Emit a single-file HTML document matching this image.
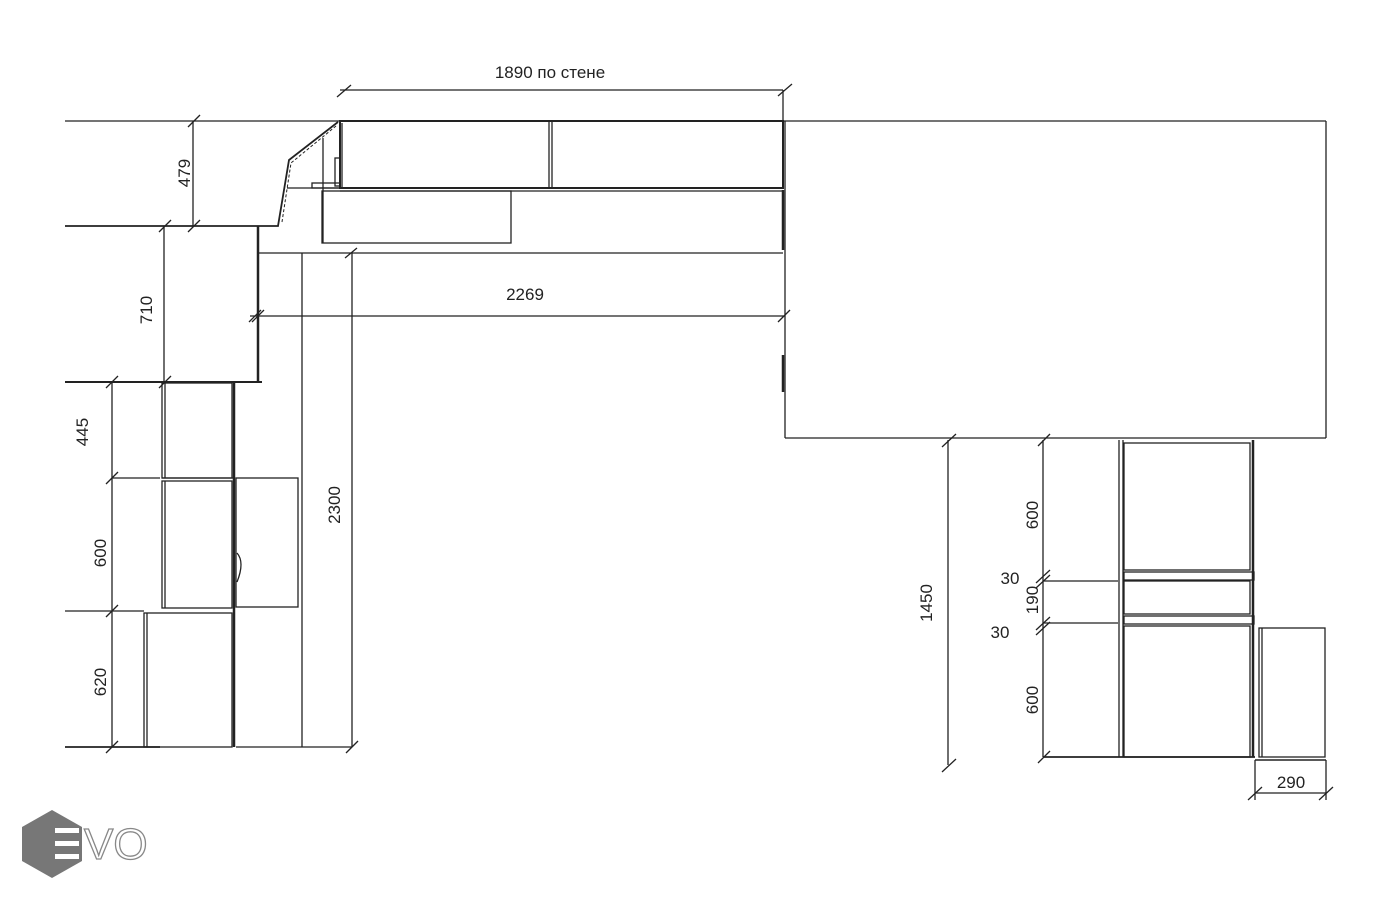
<!DOCTYPE html>
<html><head><meta charset="utf-8"><style>
html,body{margin:0;padding:0;background:#fff;width:1392px;height:900px;overflow:hidden}
svg{display:block}
text{font-family:"Liberation Sans",sans-serif;font-size:17px;fill:#222}
</style></head><body>
<svg width="1392" height="900" viewBox="0 0 1392 900" xmlns="http://www.w3.org/2000/svg">
<g stroke="#222" stroke-width="1.3" fill="none">
<line x1="65" y1="121" x2="1326" y2="121"/>
<line x1="1326" y1="121" x2="1326" y2="438"/>
<line x1="785" y1="438" x2="1326" y2="438"/>
<line x1="785" y1="121" x2="785" y2="438"/>
<line x1="783" y1="190" x2="783" y2="250" stroke-width="2.5"/>
<line x1="783" y1="355" x2="783" y2="392" stroke-width="2.5"/>
<line x1="258" y1="226" x2="258" y2="382" stroke-width="2.5"/>
<line x1="65" y1="382" x2="262" y2="382" stroke-width="2"/>
<polyline points="65,226 278,226 289,160 338,122" stroke-width="1.8"/>
<polyline points="282,222 291,163 336,126" stroke-width="1" stroke-dasharray="3,2"/>
<line x1="323" y1="138" x2="323" y2="243"/>
<line x1="287" y1="188" x2="340" y2="188"/>
<rect x="335" y="158" width="5" height="28"/>
<rect x="312" y="183" width="28" height="5"/>
<rect x="340" y="121" width="443" height="67" stroke-width="2"/>
<line x1="342" y1="123" x2="342" y2="188"/>
<line x1="549" y1="121" x2="549" y2="188"/>
<line x1="552" y1="121" x2="552" y2="188"/>
<line x1="340" y1="191" x2="783" y2="191"/>
<rect x="322" y="191" width="189" height="52"/>
<line x1="258" y1="253" x2="783" y2="253"/>
<line x1="250" y1="316" x2="785" y2="316"/>
<line x1="252" y1="322" x2="264" y2="310"/><line x1="778" y1="322" x2="790" y2="310"/>
<line x1="345" y1="258" x2="357" y2="248"/>
<line x1="302" y1="253" x2="302" y2="747"/>
<line x1="352" y1="253" x2="352" y2="747"/>
<line x1="302" y1="747" x2="352" y2="747"/>
<line x1="346" y1="753" x2="358" y2="741"/>
<line x1="340" y1="90" x2="783" y2="90"/>
<line x1="337" y1="97" x2="351" y2="85"/><line x1="778" y1="96" x2="792" y2="84"/>
<line x1="783" y1="90" x2="783" y2="121"/>
<line x1="193" y1="121" x2="193" y2="226"/>
<line x1="188" y1="127" x2="200" y2="115"/><line x1="188" y1="232" x2="200" y2="220"/>
<line x1="164" y1="226" x2="164" y2="382"/>
<line x1="159" y1="232" x2="171" y2="220"/><line x1="159" y1="388" x2="171" y2="376"/>
<line x1="249" y1="322" x2="261" y2="310"/>
<rect x="162" y="383" width="70" height="95"/>
<line x1="165" y1="383" x2="165" y2="478"/>
<rect x="162" y="481" width="70" height="127"/>
<line x1="165" y1="481" x2="165" y2="608"/>
<line x1="162" y1="478" x2="234" y2="478"/>
<rect x="144" y="613" width="88" height="134"/>
<line x1="147" y1="613" x2="147" y2="747"/>
<line x1="234" y1="382" x2="234" y2="747" stroke-width="2.5"/>
<rect x="236" y="478" width="62" height="129"/>
<path d="M237,553 Q245,562 237,582"/>
<line x1="236" y1="747" x2="302" y2="747"/>
<line x1="65" y1="747" x2="160" y2="747" stroke-width="1.8"/>
<line x1="112" y1="382" x2="112" y2="747"/>
<line x1="112" y1="478" x2="160" y2="478"/>
<line x1="65" y1="611" x2="144" y2="611"/>
<line x1="106" y1="388" x2="118" y2="376"/><line x1="106" y1="484" x2="118" y2="472"/>
<line x1="106" y1="617" x2="118" y2="605"/><line x1="106" y1="753" x2="118" y2="741"/>
<line x1="948" y1="440" x2="948" y2="765"/>
<line x1="942" y1="447" x2="956" y2="434"/><line x1="942" y1="772" x2="956" y2="759"/>
<line x1="1043" y1="440" x2="1043" y2="757"/>
<line x1="1038" y1="446" x2="1050" y2="434"/><line x1="1038" y1="763" x2="1050" y2="751"/>
<line x1="1036" y1="583" x2="1050" y2="570"/><line x1="1036" y1="588" x2="1050" y2="575"/>
<line x1="1036" y1="630" x2="1050" y2="617"/><line x1="1036" y1="635" x2="1050" y2="622"/>
<line x1="1043" y1="581" x2="1118" y2="581"/>
<line x1="1043" y1="623" x2="1118" y2="623"/>
<line x1="1043" y1="757" x2="1255" y2="757" stroke-width="1.8"/>
<line x1="1119" y1="440" x2="1119" y2="757"/>
<line x1="1123" y1="440" x2="1123" y2="757"/>
<rect x="1124" y="443" width="126" height="127"/>
<rect x="1124" y="572" width="130" height="8"/>
<rect x="1124" y="581" width="126" height="33"/>
<rect x="1124" y="616" width="130" height="8"/>
<rect x="1124" y="626" width="126" height="131"/>
<line x1="1253" y1="440" x2="1253" y2="757" stroke-width="2.5"/>
<rect x="1259" y="628" width="66" height="129"/>
<line x1="1262" y1="628" x2="1262" y2="757"/>
<line x1="1255" y1="760" x2="1326" y2="760" stroke-width="1.5"/>
<line x1="1255" y1="760" x2="1255" y2="800"/>
<line x1="1326" y1="760" x2="1326" y2="800"/>
<line x1="1255" y1="793" x2="1326" y2="793"/>
<line x1="1248" y1="800" x2="1262" y2="787"/><line x1="1319" y1="800" x2="1333" y2="787"/>
</g>
<text x="550" y="78" text-anchor="middle">1890 по стене</text>
<text x="525" y="300" text-anchor="middle">2269</text>
<text transform="translate(190,173) rotate(-90)" text-anchor="middle">479</text>
<text transform="translate(152,310) rotate(-90)" text-anchor="middle">710</text>
<text transform="translate(88,432) rotate(-90)" text-anchor="middle">445</text>
<text transform="translate(106,553) rotate(-90)" text-anchor="middle">600</text>
<text transform="translate(106,682) rotate(-90)" text-anchor="middle">620</text>
<text transform="translate(340,505) rotate(-90)" text-anchor="middle">2300</text>
<text transform="translate(932,603) rotate(-90)" text-anchor="middle">1450</text>
<text transform="translate(1038,515) rotate(-90)" text-anchor="middle">600</text>
<text transform="translate(1038,600) rotate(-90)" text-anchor="middle">190</text>
<text transform="translate(1038,700) rotate(-90)" text-anchor="middle">600</text>
<text x="1010" y="584" text-anchor="middle">30</text>
<text x="1000" y="638" text-anchor="middle">30</text>
<text x="1291" y="788" text-anchor="middle">290</text>
<polygon points="52,810 82,827 82,861 52,878 22,861 22,827" fill="#777"/>
<rect x="55" y="828" width="24" height="5" fill="#fff"/>
<rect x="55" y="841" width="24" height="5" fill="#fff"/>
<rect x="55" y="854" width="24" height="5" fill="#fff"/>
<text x="84" y="859" style="font-size:44px;fill:#fff;stroke:#888;stroke-width:1.3">VO</text>
</svg>
</body></html>
